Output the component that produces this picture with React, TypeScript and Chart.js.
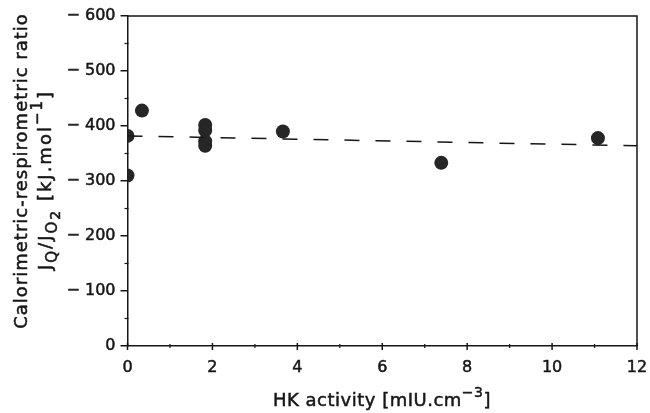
import React, { useEffect, useRef } from "react";
import { Chart, registerables } from "chart.js";

Chart.register(...registerables);

// Data
const hkActivity = [0, 0, 0.34, 1.83, 1.83, 1.83, 1.83, 3.66, 7.39, 11.08];
const ratioValues = [310, 382, 428, 402, 392, 372, 364, 390, 333, 378];
const fitX = [0, 12];
const fitY = [382, 364];
const xTickValues = [0, 2, 4, 6, 8, 10, 12];
const yTickValues = [0, 100, 200, 300, 400, 500, 600];
const xMinorTicks = [1, 3, 5, 7, 9, 11];
const yMinorTicks = [50, 150, 250, 350, 450, 550];

const FONT = "'DejaVu Sans', sans-serif";
const INK = "#161616";

type Seg = { t: string; s: number; dy: number };

function drawRich(ctx: CanvasRenderingContext2D, segs: Seg[], cx: number, cy: number, spacing: number) {
  (ctx as any).letterSpacing = spacing + "px";
  let total = 0;
  for (const g of segs) {
    ctx.font = `${g.s}px ${FONT}`;
    total += ctx.measureText(g.t).width;
  }
  let x = cx - total / 2;
  ctx.textBaseline = "middle";
  ctx.textAlign = "left";
  ctx.lineWidth = 0.5;
  ctx.strokeStyle = INK;
  for (const g of segs) {
    ctx.font = `${g.s}px ${FONT}`;
    ctx.strokeText(g.t, x, cy + g.dy);
    ctx.fillText(g.t, x, cy + g.dy);
    x += ctx.measureText(g.t).width;
  }
  (ctx as any).letterSpacing = "0px";
}

const decorPlugin = {
  id: "decor",
  afterDraw(chart: any) {
    const { ctx, chartArea } = chart;
    const xs = chart.scales.x;
    const ys = chart.scales.y;
    ctx.save();
    ctx.strokeStyle = INK;
    ctx.lineWidth = 1.5;
    // top and right frame
    ctx.beginPath();
    ctx.moveTo(chartArea.left, chartArea.top);
    ctx.lineTo(chartArea.right, chartArea.top);
    ctx.lineTo(chartArea.right, chartArea.bottom);
    ctx.stroke();
    // x major ticks (crossing the axis)
    for (const v of xTickValues) {
      const px = xs.getPixelForValue(v);
      ctx.beginPath();
      ctx.moveTo(px, chartArea.bottom - 3);
      ctx.lineTo(px, chartArea.bottom + 4);
      ctx.stroke();
    }
    // minor ticks
    ctx.lineWidth = 1.2;
    for (const v of xMinorTicks) {
      const px = xs.getPixelForValue(v);
      ctx.beginPath();
      ctx.moveTo(px, chartArea.bottom - 2);
      ctx.lineTo(px, chartArea.bottom + 2);
      ctx.stroke();
    }
    for (const v of yMinorTicks) {
      const py = ys.getPixelForValue(v);
      ctx.beginPath();
      ctx.moveTo(chartArea.left - 3, py);
      ctx.lineTo(chartArea.left + 1, py);
      ctx.stroke();
    }
    // axis titles
    ctx.fillStyle = INK;
    drawRich(
      ctx,
      [
        { t: "HK activity [mIU.cm", s: 18, dy: 0 },
        { t: "−3", s: 14, dy: -8 },
        { t: "]", s: 18, dy: 0 },
      ],
      382,
      401,
      0.5
    );
    ctx.save();
    ctx.translate(22, 171);
    ctx.rotate(-Math.PI / 2);
    drawRich(ctx, [{ t: "Calorimetric-respirometric ratio", s: 18, dy: 0 }], 0, 0, 1);
    ctx.restore();
    ctx.save();
    ctx.translate(46, 180);
    ctx.rotate(-Math.PI / 2);
    drawRich(
      ctx,
      [
        { t: "J", s: 18, dy: 0 },
        { t: "Q", s: 15, dy: 7 },
        { t: "/J", s: 18, dy: 0 },
        { t: "O", s: 15, dy: 7 },
        { t: "2", s: 14, dy: 10 },
        { t: " [kJ.mol", s: 18, dy: 0 },
        { t: "−1", s: 15, dy: -8 },
        { t: "]", s: 18, dy: 0 },
      ],
      0,
      0,
      2
    );
    ctx.restore();
    ctx.restore();
  },
};

export default function App() {
  const ref = useRef<HTMLCanvasElement>(null);
  useEffect(() => {
    if (!ref.current) return;
    const chart = new Chart(ref.current, {
      type: "scatter",
      data: {
        datasets: [
          {
            type: "line",
            data: fitX.map((x, i) => ({ x, y: fitY[i] })),
            borderColor: INK,
            borderWidth: 1.5,
            borderDash: [15, 16],
            pointRadius: 0,
            fill: false,
          } as any,
          {
            data: hkActivity.map((x, i) => ({ x, y: ratioValues[i] })),
            backgroundColor: "#262626",
            borderColor: "#262626",
            pointRadius: 7,
            borderWidth: 0,
          },
        ],
      },
      options: {
        animation: false,
        responsive: false,
        layout: { padding: { top: 16, right: 13, left: 0, bottom: 0 } },
        plugins: { legend: { display: false }, tooltip: { enabled: false } },
        scales: {
          x: {
            type: "linear",
            min: 0,
            max: 12,
            afterBuildTicks: (s: any) => {
              s.ticks = xTickValues.map((v) => ({ value: v }));
            },
            afterFit: (s: any) => {
              s.height = 67;
            },
            ticks: {
              color: INK,
              font: { family: FONT, size: 16 },
              padding: 2,
              maxRotation: 0,
              textStrokeColor: INK,
              textStrokeWidth: 0.5,
            },
            grid: {
              drawOnChartArea: false,
              drawTicks: true,
              tickLength: 10,
              color: "rgba(0,0,0,0)",
              tickColor: "rgba(0,0,0,0)",
            },
            border: { display: true, color: INK, width: 1.5 },
          },
          y: {
            type: "linear",
            min: 0,
            max: 600,
            afterBuildTicks: (s: any) => {
              s.ticks = yTickValues.map((v) => ({ value: v }));
            },
            afterFit: (s: any) => {
              s.width = 127.5;
            },
            ticks: {
              color: INK,
              font: { family: FONT, size: 16 },
              padding: 5,
              textStrokeColor: INK,
              textStrokeWidth: 0.5,
              callback: (v: any) => (Number(v) === 0 ? "0" : "− " + v),
            },
            grid: { drawOnChartArea: false, drawTicks: true, tickLength: 7, color: INK, lineWidth: 1.5 },
            border: { display: true, color: INK, width: 1.5 },
          },
        },
      },
      plugins: [decorPlugin],
    });
    return () => chart.destroy();
  }, []);
  return (
    <div style={{ position: "absolute", left: 0, top: 0, width: 650, height: 413, background: "#fff" }}>
      <canvas ref={ref} width={650} height={413} style={{ display: "block" }} />
    </div>
  );
}
